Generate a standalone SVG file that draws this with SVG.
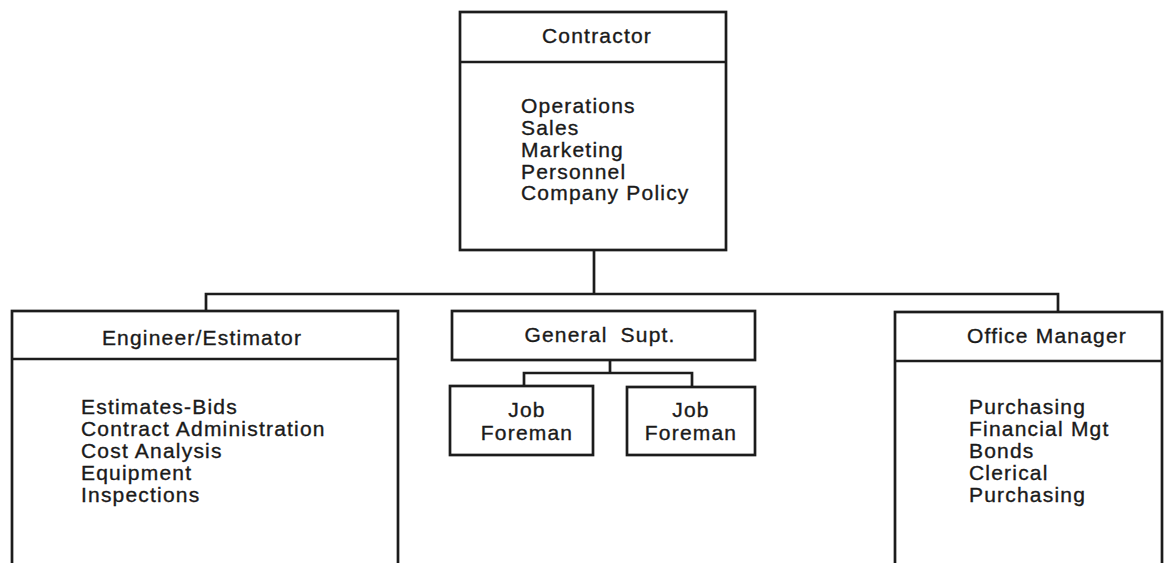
<svg xmlns="http://www.w3.org/2000/svg" width="1164" height="563" viewBox="0 0 1164 563">
  <style>
    .box { fill: none; stroke: #1c1c1c; stroke-width: 2.7; }
    .rule { stroke: #1c1c1c; stroke-width: 2.7; }
    .link { fill: none; stroke: #1c1c1c; stroke-width: 2.7; stroke-linejoin: miter; }
    text { font-family: "Liberation Sans", Arial, sans-serif; font-size: 21px; letter-spacing: 1.2px; fill: #1a1a1a; stroke: #1a1a1a; stroke-width: 0.35; }
    .title { text-anchor: middle; }
  </style>
  <rect width="1164" height="563" fill="#ffffff"/>

  <!-- connectors -->
  <g id="connectors">
    <path class="link" d="M594 250 V294"/>
    <path class="link" d="M206 311 V294 H1058 V311"/>
    <path class="link" d="M610 360 V373"/>
    <path class="link" d="M524 386 V373 H692 V387"/>
  </g>

  <!-- top: contractor -->
  <g id="contractor">
    <rect class="box" x="460" y="12" width="266" height="238"/>
    <line class="rule" x1="460" y1="62" x2="726" y2="62"/>
    <text class="title" x="597" y="43">Contractor</text>
    <text x="521" y="113">Operations</text>
    <text x="521" y="135">Sales</text>
    <text x="521" y="157">Marketing</text>
    <text x="521" y="179">Personnel</text>
    <text x="521" y="200">Company Policy</text>
  </g>

  <!-- left: engineer / estimator -->
  <g id="engineer-estimator">
    <rect class="box" x="12" y="311" width="386" height="262"/>
    <line class="rule" x1="12" y1="359" x2="398" y2="359"/>
    <text class="title" x="202" y="345">Engineer/Estimator</text>
    <text x="81" y="414">Estimates-Bids</text>
    <text x="81" y="436">Contract Administration</text>
    <text x="81" y="458">Cost Analysis</text>
    <text x="81" y="480">Equipment</text>
    <text x="81" y="502">Inspections</text>
  </g>

  <!-- centre: general superintendent -->
  <g id="general-supt">
    <rect class="box" x="452" y="311" width="303" height="49"/>
    <text class="title" x="600" y="342" style="word-spacing:6px">General Supt.</text>
  </g>

  <g id="job-foreman-1">
    <rect class="box" x="450" y="386" width="143" height="69"/>
    <text class="title" x="527" y="417">Job</text>
    <text class="title" x="527" y="440">Foreman</text>
  </g>

  <g id="job-foreman-2">
    <rect class="box" x="627" y="387" width="128" height="68"/>
    <text class="title" x="691" y="417">Job</text>
    <text class="title" x="691" y="440">Foreman</text>
  </g>

  <!-- right: office manager -->
  <g id="office-manager">
    <rect class="box" x="895" y="312" width="267" height="261"/>
    <line class="rule" x1="895" y1="361" x2="1162" y2="361"/>
    <text class="title" x="1047" y="343">Office Manager</text>
    <text x="969" y="414">Purchasing</text>
    <text x="969" y="436">Financial Mgt</text>
    <text x="969" y="458">Bonds</text>
    <text x="969" y="480">Clerical</text>
    <text x="969" y="502">Purchasing</text>
  </g>
</svg>
